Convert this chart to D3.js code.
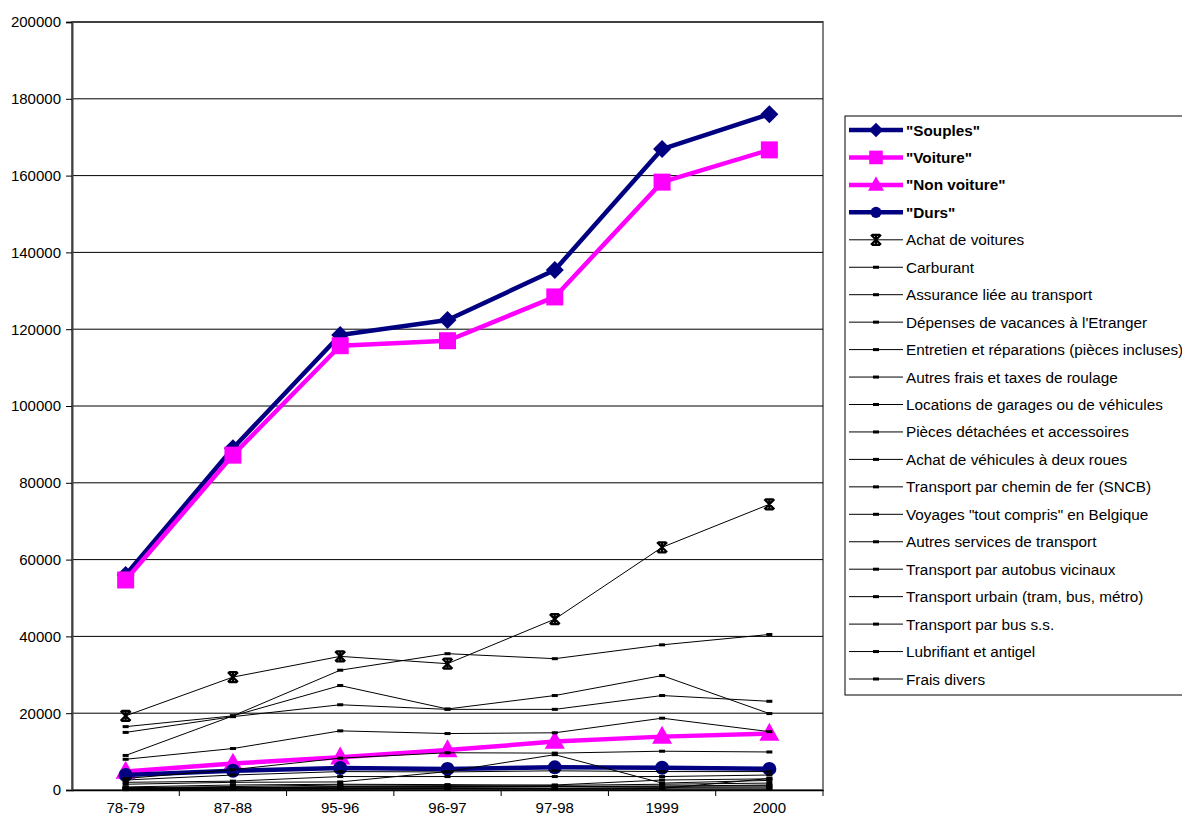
<!DOCTYPE html>
<html>
<head>
<meta charset="utf-8">
<script src="https://cdn.jsdelivr.net/npm/d3@7"></script>
<style>
  html, body { margin: 0; padding: 0; background: #fff; }
  svg { display: block; font-family: "Liberation Sans", Arial, sans-serif; }
</style>
</head>
<body>
<svg id="chart" width="1182" height="816"></svg>
<script>
// Periods on the horizontal axis
const categories = ["78-79", "87-88", "95-96", "96-97", "97-98", "1999", "2000"];
const yTicks = [0, 20000, 40000, 60000, 80000, 100000, 120000, 140000, 160000, 180000, 200000];

// Aggregated groups
const souples     = [56000, 89000, 118500, 122400, 135400, 166900, 176000];
const voiture     = [54700, 87200, 115700, 117000, 128400, 158300, 166700];
const nonVoiture  = [4800, 6900, 8500, 10400, 12600, 13900, 14700];
const durs        = [3900, 5000, 5700, 5500, 5900, 5800, 5500];

// Detailed spending items
const achatVoitures   = [19300, 29400, 34800, 32900, 44500, 63200, 74400];
const carburant       = [9000, 19300, 31200, 35500, 34200, 37800, 40500];
const assurance       = [15000, 19100, 22200, 21000, 21000, 24600, 23100];
const vacances        = [16500, 19300, 27200, 21100, 24600, 29800, 19900];
const entretien       = [8000, 10800, 15400, 14700, 14900, 18700, 15200];
const autresFrais     = [3000, 5300, 8300, 9700, 9600, 10100, 9900];
const locations       = [1500, 2000, 2100, 4800, 9200, 1800, 2500];
const pieces          = [2600, 3900, 4800, 4700, 5000, 4800, 4800];
const deuxRoues       = [800, 1300, 1500, 1400, 1200, 1500, 1800];
const sncb            = [2000, 2300, 3500, 3500, 3500, 3500, 3900];
const voyages         = [600, 900, 1300, 1200, 1300, 2600, 2900];
const autresServices  = [300, 500, 900, 800, 900, 1000, 1300];
const autobus         = [400, 600, 700, 700, 800, 700, 800];
const urbain          = [500, 700, 800, 900, 900, 1000, 1100];
const busSS           = [200, 300, 400, 400, 400, 500, 500];
const lubrifiant      = [300, 300, 300, 300, 200, 200, 200];
const fraisDivers     = [100, 200, 200, 300, 300, 400, 3000];

const NAVY = "#000080", MAGENTA = "#FF00FF";

const series = [
  { name: "\"Souples\"", values: souples, color: NAVY, width: 4.5, marker: "diamond", bold: true },
  { name: "\"Voiture\"", values: voiture, color: MAGENTA, width: 4.5, marker: "square", bold: true },
  { name: "\"Non voiture\"", values: nonVoiture, color: MAGENTA, width: 4.5, marker: "triangle", bold: true },
  { name: "\"Durs\"", values: durs, color: NAVY, width: 4.5, marker: "circle", bold: true },
  { name: "Achat de voitures", values: achatVoitures, color: "#000", width: 1, marker: "star" },
  { name: "Carburant", values: carburant, color: "#000", width: 1, marker: "dash" },
  { name: "Assurance liée au transport", values: assurance, color: "#000", width: 1, marker: "dash" },
  { name: "Dépenses de vacances à l'Etranger", values: vacances, color: "#000", width: 1, marker: "dash" },
  { name: "Entretien et réparations (pièces incluses)", values: entretien, color: "#000", width: 1, marker: "dash" },
  { name: "Autres frais et taxes de roulage", values: autresFrais, color: "#000", width: 1, marker: "dash" },
  { name: "Locations de garages ou de véhicules", values: locations, color: "#000", width: 1, marker: "dash" },
  { name: "Pièces détachées et accessoires", values: pieces, color: "#000", width: 1, marker: "dash" },
  { name: "Achat de véhicules à deux roues", values: deuxRoues, color: "#000", width: 1, marker: "dash" },
  { name: "Transport par chemin de fer (SNCB)", values: sncb, color: "#000", width: 1, marker: "dash" },
  { name: "Voyages \"tout compris\" en Belgique", values: voyages, color: "#000", width: 1, marker: "dash" },
  { name: "Autres services de transport", values: autresServices, color: "#000", width: 1, marker: "dash" },
  { name: "Transport par autobus vicinaux", values: autobus, color: "#000", width: 1, marker: "dash" },
  { name: "Transport urbain (tram, bus, métro)", values: urbain, color: "#000", width: 1, marker: "dash" },
  { name: "Transport par bus s.s.", values: busSS, color: "#000", width: 1, marker: "dash" },
  { name: "Lubrifiant et antigel", values: lubrifiant, color: "#000", width: 1, marker: "dash" },
  { name: "Frais divers", values: fraisDivers, color: "#000", width: 1, marker: "dash" }
];

const svg = d3.select("#chart");
const plot = { left: 72, right: 823, top: 22, bottom: 790 };

const x = d3.scaleBand().domain(categories).range([plot.left, plot.right]).paddingInner(0).paddingOuter(0);
const xc = c => x(c) + x.bandwidth() / 2;
const y = d3.scaleLinear().domain([0, 200000]).range([plot.bottom, plot.top]);

// Plot area frame
svg.append("rect")
  .attr("x", plot.left).attr("y", plot.top)
  .attr("width", plot.right - plot.left).attr("height", plot.bottom - plot.top)
  .attr("fill", "#fff").attr("stroke", "#808080").attr("stroke-width", 2);

// Horizontal gridlines
svg.append("g").selectAll("line")
  .data(yTicks.filter(t => t > 0))
  .join("line")
  .attr("x1", plot.left).attr("x2", plot.right)
  .attr("y1", d => y(d)).attr("y2", d => y(d))
  .attr("stroke", "#000").attr("stroke-width", 1);

// Y axis
const yAxis = svg.append("g")
  .attr("transform", `translate(${plot.left},0)`)
  .call(d3.axisLeft(y).tickValues(yTicks).tickFormat(d3.format("d")).tickSize(6).tickPadding(5));
yAxis.select(".domain").attr("stroke", "#404040").attr("stroke-width", 2);
yAxis.selectAll(".tick line").attr("stroke", "#000");
yAxis.selectAll("text").attr("font-size", 15).attr("fill", "#000")
  .attr("font-family", "\"Liberation Sans\", Arial, sans-serif");

// X axis: labels centred in each band, ticks at band boundaries
const xAxis = svg.append("g")
  .attr("transform", `translate(0,${plot.bottom})`)
  .call(d3.axisBottom(x).tickSize(0).tickPadding(12));
xAxis.select(".domain").attr("stroke", "#000").attr("stroke-width", 1.5);
xAxis.selectAll("text").attr("font-size", 15).attr("fill", "#000")
  .attr("font-family", "\"Liberation Sans\", Arial, sans-serif");
const bounds = categories.map(c => x(c)).concat([x(categories[categories.length - 1]) + x.bandwidth()]);
svg.append("g").selectAll("line")
  .data(bounds.slice(1))
  .join("line")
  .attr("x1", d => d).attr("x2", d => d)
  .attr("y1", plot.bottom).attr("y2", plot.bottom + 6)
  .attr("stroke", "#000");

// Marker shapes
function drawMarker(g, type, cx, cy, color, legend) {
  const k = legend ? 0.8 : 1;
  if (type === "diamond") {
    const r = 9 * k;
    g.append("path").attr("d", `M${cx},${cy - r}L${cx + r},${cy}L${cx},${cy + r}L${cx - r},${cy}Z`).attr("fill", color);
  } else if (type === "square") {
    const s = 17 * k;
    g.append("rect").attr("x", cx - s / 2).attr("y", cy - s / 2).attr("width", s).attr("height", s).attr("fill", color);
  } else if (type === "triangle") {
    const w = 20 * k, h = 18 * k;
    g.append("path").attr("d", `M${cx},${cy - h * 0.6}L${cx + w / 2},${cy + h * 0.4}L${cx - w / 2},${cy + h * 0.4}Z`).attr("fill", color);
  } else if (type === "circle") {
    g.append("circle").attr("cx", cx).attr("cy", cy).attr("r", 7 * k).attr("fill", color);
  } else if (type === "star") {
    const r = 5;
    g.append("path")
      .attr("d", `M${cx - r},${cy - r}L${cx + r},${cy + r}M${cx + r},${cy - r}L${cx - r},${cy + r}M${cx},${cy - r}L${cx},${cy + r}M${cx - r + 1},${cy - r}L${cx + r - 1},${cy - r}M${cx - r + 1},${cy + r}L${cx + r - 1},${cy + r}`)
      .attr("stroke", color).attr("stroke-width", 2.2).attr("fill", "none");
  } else if (type === "dash") {
    g.append("rect").attr("x", cx - 3).attr("y", cy - 1.5).attr("width", 6).attr("height", 3).attr("fill", color);
  }
}

// Series lines and markers
const line = d3.line().x((d, i) => xc(categories[i])).y(d => y(d));
const seriesG = svg.append("g");
series.forEach(s => {
  const g = seriesG.append("g");
  g.append("path").datum(s.values)
    .attr("d", line).attr("fill", "none")
    .attr("stroke", s.color).attr("stroke-width", s.width)
    .attr("stroke-linejoin", "round");
  s.values.forEach((v, i) => drawMarker(g, s.marker, xc(categories[i]), y(v), s.color, false));
});

// Legend
const legend = svg.append("g");
const lg = { x: 845, y: 116, w: 360, h: 579, row0: 130, step: 27.45 };
legend.append("rect")
  .attr("x", lg.x).attr("y", lg.y).attr("width", lg.w).attr("height", lg.h)
  .attr("fill", "#fff").attr("stroke", "#000").attr("stroke-width", 1);
series.forEach((s, i) => {
  const cy = lg.row0 + i * lg.step;
  const g = legend.append("g");
  g.append("line").attr("x1", 849).attr("x2", 903).attr("y1", cy).attr("y2", cy)
    .attr("stroke", s.color).attr("stroke-width", s.width);
  drawMarker(g, s.marker, 876, cy, s.color, true);
  g.append("text").attr("x", 906).attr("y", cy).attr("dy", "0.36em")
    .attr("font-size", 15.3).attr("font-weight", s.bold ? "bold" : "normal")
    .attr("fill", "#000").text(s.name);
});
</script>
</body>
</html>
